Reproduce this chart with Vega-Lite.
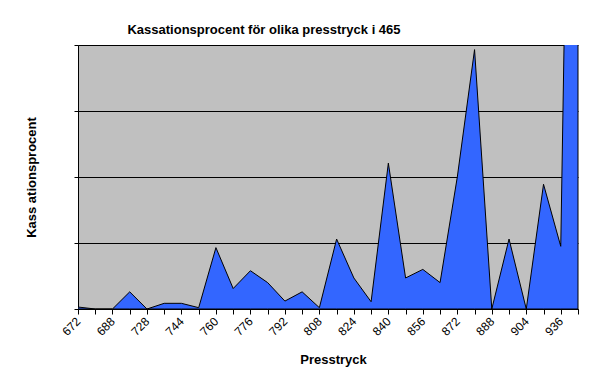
{
  "$schema": "https://vega.github.io/schema/vega-lite/v6.json",
  "width": 500,
  "height": 264,
  "autosize": "none",
  "padding": {"left": 78, "top": 45, "right": 21, "bottom": 76},
  "background": "white",
  "title": {
    "text": "Kassationsprocent för olika presstryck i 465",
    "font": "Liberation Sans",
    "fontSize": 13,
    "fontWeight": "bold",
    "color": "black",
    "anchor": "middle",
    "dx": -64,
    "offset": 8
  },
  "config": {
    "view": {"fill": "#C0C0C0", "stroke": "#808080", "strokeWidth": 1},
    "font": "Liberation Sans"
  },
  "data": {
    "values": [
      {"Presstryck": "672", "Kassationsprocent": 0.03},
      {"Presstryck": "680", "Kassationsprocent": 0},
      {"Presstryck": "688", "Kassationsprocent": 0},
      {"Presstryck": "712", "Kassationsprocent": 0.26},
      {"Presstryck": "728", "Kassationsprocent": 0},
      {"Presstryck": "736", "Kassationsprocent": 0.086},
      {"Presstryck": "744", "Kassationsprocent": 0.086},
      {"Presstryck": "752", "Kassationsprocent": 0.02},
      {"Presstryck": "760", "Kassationsprocent": 0.93},
      {"Presstryck": "768", "Kassationsprocent": 0.31},
      {"Presstryck": "776", "Kassationsprocent": 0.58},
      {"Presstryck": "784", "Kassationsprocent": 0.40},
      {"Presstryck": "792", "Kassationsprocent": 0.12},
      {"Presstryck": "800", "Kassationsprocent": 0.26},
      {"Presstryck": "808", "Kassationsprocent": 0.02},
      {"Presstryck": "816", "Kassationsprocent": 1.06},
      {"Presstryck": "824", "Kassationsprocent": 0.47},
      {"Presstryck": "832", "Kassationsprocent": 0.11},
      {"Presstryck": "840", "Kassationsprocent": 2.21},
      {"Presstryck": "848", "Kassationsprocent": 0.47},
      {"Presstryck": "856", "Kassationsprocent": 0.60},
      {"Presstryck": "864", "Kassationsprocent": 0.40},
      {"Presstryck": "872", "Kassationsprocent": 2.0},
      {"Presstryck": "880", "Kassationsprocent": 3.93},
      {"Presstryck": "888", "Kassationsprocent": 0},
      {"Presstryck": "896", "Kassationsprocent": 1.06},
      {"Presstryck": "904", "Kassationsprocent": 0},
      {"Presstryck": "920", "Kassationsprocent": 1.89},
      {"Presstryck": "936", "Kassationsprocent": 0.95},
      {"Presstryck": "944", "Kassationsprocent": 17}
    ]
  },
  "mark": {"type": "area", "color": "#3366FF", "stroke": "black", "strokeWidth": 1, "clip": true, "opacity": 1},
  "encoding": {
    "x": {
      "field": "Presstryck",
      "type": "ordinal",
      "sort": null,
      "scale": {"type": "point", "padding": 0},
      "axis": {
        "title": "Presstryck",
        "titleFont": "Liberation Sans",
        "titleFontSize": 13,
        "titleFontWeight": "bold",
        "titleColor": "black",
        "titleY": 54,
        "titleBaseline": "alphabetic",
        "titleX": 255,
        "labelExpr": "round(datum.index * 29) % 2 == 0 ? datum.label : ''",
        "labelAngle": -45,
        "labelAlign": "right",
        "labelBaseline": "middle",
        "labelPadding": 5,
        "labelFontSize": 12,
        "labelColor": "black",
        "labelFont": "Liberation Sans",
        "labelOverlap": false,
        "domainColor": "black",
        "domainWidth": 1,
        "tickColor": "black",
        "tickSize": 5,
        "ticks": true,
        "grid": false
      }
    },
    "y": {
      "field": "Kassationsprocent",
      "type": "quantitative",
      "scale": {"domain": [0, 4], "nice": false, "zero": true},
      "axis": {
        "title": "Kass ationsprocent",
        "titleFont": "Liberation Sans",
        "titleFontSize": 13,
        "titleFontWeight": "bold",
        "titleColor": "black",
        "titleX": -43,
        "titleBaseline": "alphabetic",
        "values": [0, 1, 2, 3, 4],
        "labels": false,
        "domainColor": "black",
        "tickColor": "black",
        "tickSize": 4,
        "grid": true,
        "gridColor": "black",
        "gridOpacity": 1,
        "gridWidth": 1
      }
    }
  }
}
